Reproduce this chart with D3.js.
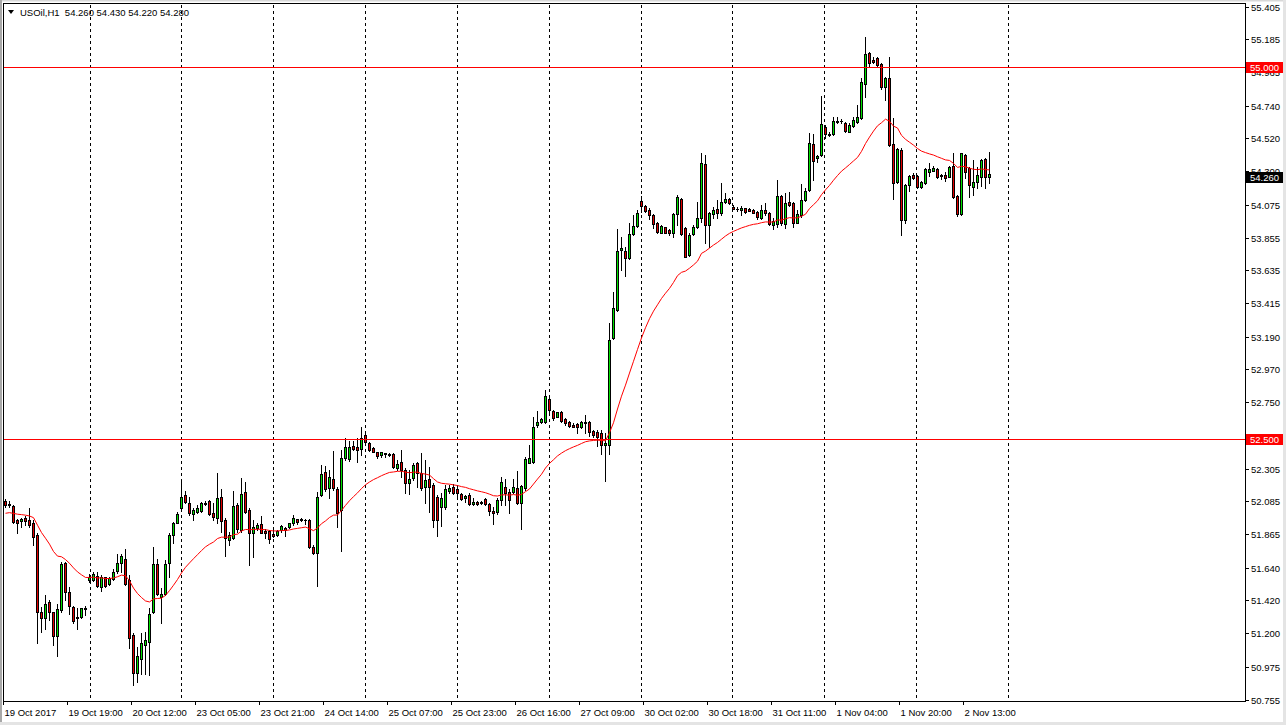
<!DOCTYPE html>
<html><head><meta charset="utf-8">
<script src="https://cdn.jsdelivr.net/npm/d3@7"></script>
<style>body{margin:0;background:#fff;overflow:hidden}svg{display:block}</style>
</head><body>
<svg id="c" width="1286" height="725"></svg>
<script>
const symbolTitle = "USOil,H1";
const headerValues = ["54.260", "54.430", "54.220", "54.280"];

const opens = [52.084,52.070,52.052,51.959,51.954,51.972,51.959,51.941,51.858,51.339,51.299,51.406,51.339,51.182,51.355,51.668,51.473,51.377,51.310,51.310,51.361,51.560,51.556,51.585,51.511,51.574,51.527,51.563,51.619,51.668,51.701,51.556,51.187,50.936,51.030,51.122,51.142,51.343,51.663,51.444,51.462,51.668,51.858,51.941,52.037,52.127,52.071,51.997,52.015,52.021,52.073,52.086,52.004,51.970,52.111,51.959,51.825,51.836,52.060,51.892,52.149,52.026,51.869,51.907,51.932,51.887,51.887,51.865,51.856,51.892,51.903,51.910,51.936,51.963,51.963,51.961,51.959,51.780,51.735,52.127,52.279,52.171,52.232,52.165,52.026,52.373,52.366,52.456,52.447,52.433,52.529,52.473,52.440,52.413,52.395,52.406,52.402,52.400,52.310,52.350,52.294,52.205,52.239,52.339,52.272,52.183,52.232,52.194,52.111,52.044,52.044,52.156,52.183,52.165,52.131,52.104,52.127,52.067,52.082,52.071,52.098,52.067,52.020,52.015,52.094,52.183,52.150,52.150,52.172,52.071,52.172,52.344,52.351,52.597,52.619,52.619,52.769,52.693,52.653,52.686,52.635,52.619,52.597,52.604,52.581,52.613,52.619,52.557,52.552,52.546,52.463,52.463,53.178,53.368,53.771,53.764,53.715,53.878,53.932,54.100,54.066,54.039,54.006,53.950,53.887,53.923,53.905,53.883,54.012,54.111,53.916,53.737,53.878,53.923,53.983,54.346,53.939,54.012,54.044,54.021,54.095,54.111,54.057,54.048,54.039,54.050,54.044,54.039,54.028,53.984,54.040,54.022,53.939,53.944,54.134,53.946,54.096,54.085,53.955,54.006,54.107,54.174,54.483,54.387,54.409,54.599,54.550,54.550,54.639,54.635,54.626,54.566,54.604,54.633,54.655,54.886,55.091,55.047,55.058,55.020,54.863,54.924,54.483,54.230,54.443,53.973,54.208,54.275,54.268,54.192,54.219,54.297,54.304,54.313,54.275,54.275,54.264,54.335,54.134,54.013,54.409,54.320,54.197,54.230,54.259,54.380,54.260];
const highs = [52.097,52.088,52.059,51.963,51.976,51.985,52.037,51.959,51.869,51.377,51.455,51.422,51.343,51.399,51.679,51.679,51.511,51.381,51.366,51.372,51.381,51.594,51.612,51.612,51.589,51.578,51.578,51.634,51.730,51.730,51.762,51.589,51.198,51.108,51.198,51.209,51.366,51.780,51.701,51.500,51.690,51.869,51.947,52.014,52.216,52.156,52.115,52.037,52.060,52.082,52.089,52.093,52.071,52.272,52.165,51.970,51.880,52.156,52.075,52.238,52.216,52.037,51.959,51.936,51.986,51.896,51.892,51.892,51.892,51.925,51.910,51.941,51.992,51.968,51.970,51.968,51.963,51.791,52.149,52.328,52.321,52.294,52.424,52.183,52.429,52.507,52.491,52.491,52.507,52.581,52.541,52.485,52.447,52.417,52.417,52.406,52.411,52.406,52.362,52.429,52.306,52.294,52.339,52.350,52.406,52.362,52.317,52.205,52.127,52.142,52.194,52.194,52.200,52.183,52.142,52.127,52.142,52.105,52.090,52.090,52.105,52.071,52.049,52.105,52.250,52.232,52.165,52.232,52.290,52.194,52.380,52.463,52.648,52.693,52.642,52.832,52.776,52.698,52.686,52.693,52.642,52.626,52.608,52.608,52.626,52.664,52.626,52.563,52.563,52.563,52.541,53.279,53.491,53.909,53.860,53.793,53.950,54.006,54.039,54.133,54.071,54.050,54.012,53.961,53.936,53.927,53.909,54.017,54.140,54.118,53.923,53.883,53.939,54.095,54.424,54.408,54.028,54.062,54.106,54.218,54.156,54.118,54.073,54.062,54.066,54.055,54.053,54.044,54.035,54.074,54.085,54.029,53.984,54.241,54.141,54.152,54.163,54.096,54.040,54.214,54.185,54.555,54.550,54.409,54.805,54.610,54.566,54.662,54.662,54.648,54.633,54.622,54.662,54.745,54.924,55.199,55.103,55.069,55.065,55.029,54.930,55.069,54.655,54.454,54.454,54.214,54.275,54.286,54.275,54.235,54.320,54.358,54.335,54.320,54.282,54.297,54.335,54.420,54.141,54.425,54.416,54.331,54.376,54.331,54.380,54.387,54.430];
const lows = [52.048,52.048,51.941,51.869,51.914,51.925,51.914,51.791,51.135,51.209,51.231,51.287,51.120,51.048,51.343,51.422,51.332,51.270,51.231,51.305,51.321,51.545,51.549,51.511,51.482,51.511,51.522,51.556,51.601,51.612,51.522,51.102,50.851,50.874,50.929,50.929,50.918,51.337,51.455,51.265,51.455,51.578,51.802,51.936,52.030,52.071,51.992,51.959,52.004,52.015,52.060,51.992,51.959,51.936,51.881,51.717,51.791,51.829,51.881,51.881,52.004,51.657,51.713,51.892,51.869,51.836,51.807,51.847,51.852,51.881,51.852,51.903,51.925,51.932,51.955,51.932,51.769,51.731,51.518,52.120,52.156,52.104,52.160,51.914,51.753,52.362,52.357,52.429,52.350,52.395,52.473,52.424,52.413,52.373,52.384,52.384,52.388,52.306,52.294,52.250,52.142,52.133,52.227,52.183,52.160,52.071,52.015,51.914,51.854,51.919,52.030,52.142,52.133,52.115,52.093,52.082,52.060,52.060,52.060,52.064,52.060,51.993,51.933,51.999,52.060,52.060,52.004,52.138,52.067,51.897,52.161,52.340,52.344,52.586,52.613,52.613,52.686,52.631,52.648,52.619,52.597,52.581,52.581,52.541,52.575,52.541,52.523,52.519,52.456,52.402,52.223,52.402,53.171,53.364,53.637,53.596,53.710,53.871,53.923,54.028,54.028,53.977,53.916,53.887,53.883,53.883,53.871,53.860,53.939,53.871,53.722,53.731,53.871,53.916,53.961,53.815,53.793,53.983,53.983,54.006,54.084,54.079,54.044,54.035,54.006,54.021,54.030,54.017,53.977,53.977,54.006,53.939,53.910,53.928,53.939,53.917,54.067,53.928,53.951,53.995,54.102,54.170,54.241,54.364,54.402,54.521,54.537,54.543,54.626,54.626,54.566,54.561,54.599,54.626,54.648,54.801,55.002,55.024,55.006,54.850,54.778,54.469,54.112,54.219,53.872,53.955,54.170,54.246,54.185,54.188,54.214,54.268,54.300,54.253,54.246,54.237,54.259,54.118,54.000,54.006,54.253,54.125,54.141,54.185,54.200,54.185,54.220];
const closes = [52.057,52.057,51.947,51.936,51.963,51.950,51.923,51.847,51.343,51.305,51.399,51.343,51.180,51.361,51.663,51.478,51.381,51.283,51.301,51.368,51.370,51.574,51.594,51.516,51.574,51.516,51.571,51.612,51.672,51.715,51.533,51.171,50.934,51.046,51.131,51.153,51.332,51.663,51.466,51.462,51.663,51.858,51.936,52.003,52.111,52.077,52.008,52.026,52.037,52.071,52.068,51.999,51.981,52.104,51.954,51.836,51.858,52.053,51.896,52.133,52.015,51.869,51.914,51.925,51.874,51.874,51.831,51.852,51.885,51.918,51.892,51.936,51.975,51.948,51.959,51.959,51.780,51.735,52.111,52.268,52.165,52.245,52.171,52.004,52.373,52.451,52.447,52.433,52.429,52.507,52.485,52.429,52.417,52.388,52.413,52.402,52.397,52.317,52.335,52.294,52.209,52.232,52.328,52.272,52.171,52.227,52.183,51.959,51.959,52.104,52.165,52.171,52.142,52.138,52.100,52.120,52.066,52.082,52.067,52.082,52.067,52.022,52.004,52.094,52.217,52.138,52.094,52.179,52.076,52.188,52.367,52.373,52.581,52.619,52.635,52.792,52.698,52.642,52.686,52.626,52.613,52.590,52.586,52.581,52.619,52.619,52.552,52.530,52.519,52.463,52.474,53.167,53.379,53.764,53.782,53.715,53.878,53.932,54.021,54.068,54.035,54.006,53.945,53.894,53.932,53.887,53.887,54.012,54.124,53.878,53.726,53.871,53.923,53.983,54.352,53.939,54.017,54.039,54.021,54.095,54.113,54.088,54.048,54.044,54.050,54.028,54.035,54.021,53.990,54.040,54.018,53.946,53.968,54.134,53.951,54.089,54.074,53.955,54.013,54.107,54.170,54.487,54.371,54.402,54.617,54.548,54.545,54.639,54.633,54.637,54.572,54.610,54.644,54.662,54.901,55.087,55.029,55.031,55.013,54.863,54.924,54.476,54.223,54.447,53.973,54.208,54.268,54.253,54.192,54.230,54.313,54.313,54.320,54.264,54.268,54.253,54.331,54.125,54.013,54.420,54.297,54.208,54.230,54.275,54.376,54.264,54.280];

const timeLabels = ["19 Oct 2017","19 Oct 19:00","20 Oct 12:00","23 Oct 05:00","23 Oct 21:00","24 Oct 14:00","25 Oct 07:00","25 Oct 23:00","26 Oct 16:00","27 Oct 09:00","30 Oct 02:00","30 Oct 18:00","31 Oct 11:00","1 Nov 04:00","1 Nov 20:00","2 Nov 13:00"];
const timeLabelBars = [0,16,32,48,64,80,96,112,128,144,160,176,192,208,224,240];
const priceTickLabels = ["55.405","55.185","54.965","54.740","54.520","54.300","54.075","53.855","53.635","53.415","53.190","52.970","52.750","52.525","52.305","52.085","51.865","51.640","51.420","51.200","50.975","50.755"];
const levelLines = [55.000, 52.500];
const bidPrice = 54.260;
const maPeriod = 24;
const maStartValue = 52.00;

const W = 1286, H = 725;
const L = 4, T = 4, R = 1245, B = 701;
const svg = d3.select("#c");
const FONT = "'Liberation Sans', Arial, sans-serif";

svg.append("rect").attr("width", W).attr("height", H).attr("fill", "#ffffff");
// window frame
svg.append("rect").attr("x",0).attr("y",0).attr("width",W).attr("height",1.5).attr("fill","#d8d8d8");
svg.append("rect").attr("x",0).attr("y",0).attr("width",2).attr("height",H).attr("fill","#a8a8a8");
svg.append("rect").attr("x",W-3).attr("y",0).attr("width",3).attr("height",H).attr("fill","#e4e4e4");
svg.append("rect").attr("x",0).attr("y",H-3).attr("width",W).attr("height",3).attr("fill","#e4e4e4");

const n = closes.length;
const x = d3.scaleLinear().domain([0, n - 1]).range([5, 5 + 4 * (n - 1)]);
const y = d3.scaleLinear().domain([50.755, 55.405]).range([699.5, 6.5]);

const g = svg.append("g");

// vertical dotted grid
const gridBars = d3.range(11).map(k => 21.125 + 22.9625 * k);
g.selectAll("line.grid").data(gridBars).join("line")
  .attr("x1", d => Math.round(x(d)) + 0.5).attr("x2", d => Math.round(x(d)) + 0.5)
  .attr("y1", T + 1).attr("y2", B)
  .attr("stroke", "#000").attr("stroke-width", 1).attr("stroke-dasharray", "3,3")
  .attr("shape-rendering", "crispEdges");

// candles
const idx = d3.range(n);
const cg = g.append("g").attr("shape-rendering", "crispEdges");
cg.selectAll("path.wick").data(idx).join("path")
  .attr("d", i => {
    const cx = Math.round(x(i)) + 0.5;
    return `M${cx},${Math.round(y(highs[i]))}V${Math.round(y(lows[i])) + 1}`;
  })
  .attr("stroke", "#000").attr("stroke-width", 1).attr("fill", "none");
idx.forEach(i => {
  const cx = Math.round(x(i)) + 0.5;
  const top = Math.round(y(Math.max(opens[i], closes[i])));
  const bot = Math.round(y(Math.min(opens[i], closes[i])));
  const up = closes[i] >= opens[i];
  if (bot - top < 2) {
    cg.append("path").attr("d", `M${cx - 1.5},${top + 0.5}H${cx + 1.5}` + (bot > top ? `M${cx - 1.5},${bot + 0.5}H${cx + 1.5}` : ""))
      .attr("stroke", "#000").attr("stroke-width", 1);
  } else {
    cg.append("rect").attr("x", cx - 1).attr("y", top + 0.5).attr("width", 2).attr("height", bot - top)
      .attr("fill", up ? "#00e000" : "#e00000").attr("stroke", "#000").attr("stroke-width", 1);
  }
});

// level lines
g.selectAll("line.level").data(levelLines).join("line")
  .attr("x1", L).attr("x2", R)
  .attr("y1", d => Math.round(y(d)) + 0.5).attr("y2", d => Math.round(y(d)) + 0.5)
  .attr("stroke", "#ff0000").attr("stroke-width", 1).attr("shape-rendering", "crispEdges");

// moving average (EMA of closes)
const ma = [];
closes.forEach((c, i) => {
  const prev = i === 0 ? maStartValue : ma[i - 1];
  ma.push(prev + (2 / (maPeriod + 1)) * (c - prev));
});
g.append("path").datum(idx)
  .attr("d", d3.line().x(i => Math.round(x(i)) + 0.5).y(i => y(ma[i])))
  .attr("fill", "none").attr("stroke", "#ff0000").attr("stroke-width", 1);

// frame
svg.append("rect").attr("x", L - 0.5).attr("y", T - 0.5).attr("width", R - L + 1).attr("height", B - T + 1)
  .attr("fill", "none").attr("stroke", "#000").attr("stroke-width", 1).attr("shape-rendering", "crispEdges");

// price axis
const pa = svg.append("g");
priceTickLabels.forEach(t => {
  const yy = Math.round(y(+t)) + 0.5;
  pa.append("line").attr("x1", R).attr("x2", R + 4).attr("y1", yy).attr("y2", yy)
    .attr("stroke", "#000").attr("shape-rendering", "crispEdges");
  pa.append("text").attr("x", R + 6).attr("y", yy).attr("dy", "0.35em")
    .attr("font-family", FONT).attr("font-size", "9.5px").attr("fill", "#000").text(t);
});
function priceBox(v, fill) {
  const yy = Math.round(y(v));
  pa.append("rect").attr("x", R + 1).attr("y", yy - 5).attr("width", 37).attr("height", 11).attr("fill", fill);
  pa.append("text").attr("x", R + 5).attr("y", yy + 0.5).attr("dy", "0.35em")
    .attr("font-family", FONT).attr("font-size", "9.5px").attr("fill", "#fff").text(d3.format(".3f")(v));
}
levelLines.forEach(v => priceBox(v, "#ff0000"));
priceBox(bidPrice, "#000");

// time axis
const ta = svg.append("g");
timeLabelBars.forEach((b, k) => {
  const xx = Math.round(x(b)) - 1.5;
  ta.append("line").attr("x1", xx).attr("x2", xx).attr("y1", B).attr("y2", B + 4)
    .attr("stroke", "#000").attr("shape-rendering", "crispEdges");
  ta.append("text").attr("x", xx + 1).attr("y", 716)
    .attr("font-family", FONT).attr("font-size", "9.5px").attr("fill", "#000").text(timeLabels[k]);
});

// header
svg.append("path").attr("d", "M8,10H14L11,14Z").attr("fill", "#000");
const hdr = svg.append("text").attr("x", 20).attr("y", 16).attr("font-family", FONT).attr("font-size", "9.5px").attr("fill", "#000");
hdr.text(symbolTitle + "  " + headerValues.join(" "));
hdr.attr("xml:space", "preserve").style("white-space", "pre");
</script>
</body></html>
